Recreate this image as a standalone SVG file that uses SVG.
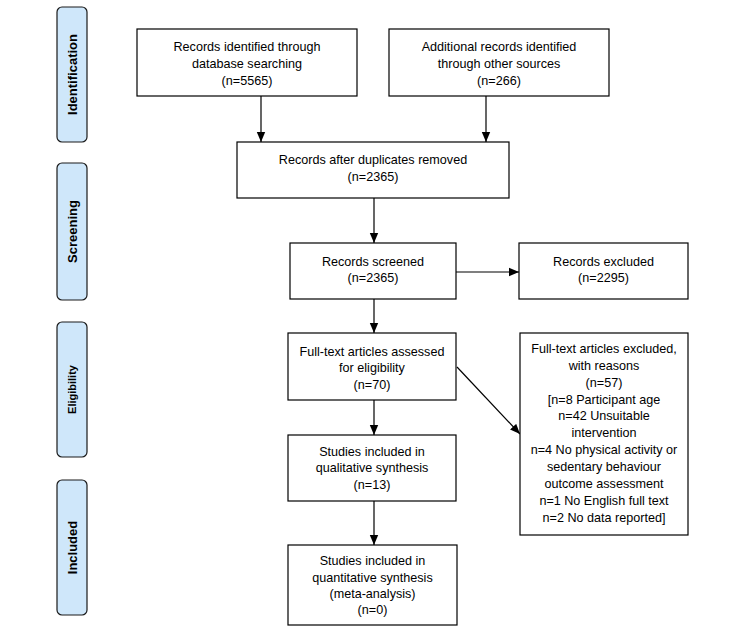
<svg xmlns="http://www.w3.org/2000/svg" width="750" height="636" viewBox="0 0 750 636">
<style>
.bg{fill:#ffffff}
.box{fill:#ffffff;stroke:#000000;stroke-width:1.2}
.side{fill:#cfe7fa;stroke:#1a1a1a;stroke-width:1.2}
.t{font-family:"Liberation Sans",Arial,sans-serif;font-size:12.6px;fill:#000000;text-anchor:middle}
.s{font-family:"Liberation Sans",Arial,sans-serif;font-size:13px;font-weight:bold;fill:#000000;text-anchor:middle}
.c{stroke:#000000;stroke-width:1.2;fill:none;marker-end:url(#ah)}
</style>
<defs>
<marker id="ah" viewBox="0 0 10 10" refX="10" refY="5" markerWidth="10" markerHeight="10" markerUnits="userSpaceOnUse" orient="auto">
<path d="M0,0.8 L10,5 L0,9.2 Z" fill="#000000"/>
</marker>
</defs>
<rect class="bg" x="0" y="0" width="750" height="636"/>

<g id="stage-identification">
<rect class="side" x="57" y="7" width="30" height="135" rx="5"/>
<text class="s" transform="translate(76.5,74.5) rotate(-90)">Identification</text>
</g>
<g id="stage-screening">
<rect class="side" x="57" y="163" width="30" height="137" rx="5"/>
<text class="s" transform="translate(76.5,231.5) rotate(-90)">Screening</text>
</g>
<g id="stage-eligibility">
<rect class="side" x="57" y="322" width="30" height="135" rx="5"/>
<text class="s" style="font-size:11px" transform="translate(76,389.5) rotate(-90)">Eligibility</text>
</g>
<g id="stage-included">
<rect class="side" x="57" y="480" width="30" height="135" rx="5"/>
<text class="s" transform="translate(76.5,547.5) rotate(-90)">Included</text>
</g>

<g id="connectors">
<line class="c" x1="261" y1="96" x2="261" y2="142"/>
<line class="c" x1="486" y1="96" x2="486" y2="142"/>
<line class="c" x1="374" y1="198" x2="374" y2="243"/>
<line class="c" x1="374" y1="299" x2="374" y2="333"/>
<line class="c" x1="456" y1="272" x2="519" y2="272"/>
<line class="c" x1="374" y1="400" x2="374" y2="435"/>
<line class="c" x1="374" y1="501" x2="374" y2="545"/>
<line class="c" x1="457" y1="367" x2="520" y2="434"/>
</g>

<g id="db-records">
<rect class="box" x="137" y="29" width="220" height="67"/>
<text class="t" x="247" y="51">Records identified through</text>
<text class="t" x="247" y="68">database searching</text>
<text class="t" x="247" y="85">(n=5565)</text>
</g>
<g id="other-records">
<rect class="box" x="389" y="29" width="220" height="67"/>
<text class="t" x="499" y="51">Additional records identified</text>
<text class="t" x="499" y="68">through other sources</text>
<text class="t" x="499" y="85">(n=266)</text>
</g>
<g id="after-duplicates">
<rect class="box" x="237" y="142" width="272" height="56"/>
<text class="t" x="373" y="164">Records after duplicates removed</text>
<text class="t" x="373" y="181">(n=2365)</text>
</g>
<g id="screened">
<rect class="box" x="290" y="243" width="166" height="56"/>
<text class="t" x="373" y="266">Records screened</text>
<text class="t" x="373" y="282">(n=2365)</text>
</g>
<g id="excluded">
<rect class="box" x="519" y="243" width="169" height="56"/>
<text class="t" x="603.5" y="266">Records excluded</text>
<text class="t" x="603.5" y="282">(n=2295)</text>
</g>
<g id="fulltext">
<rect class="box" x="288" y="333" width="168" height="67"/>
<text class="t" x="372" y="356">Full-text articles assessed</text>
<text class="t" x="372" y="372">for eligibility</text>
<text class="t" x="372" y="389">(n=70)</text>
</g>
<g id="fulltext-excluded">
<rect class="box" x="520" y="333" width="168" height="202"/>
<text class="t" x="604" y="353">Full-text articles excluded,</text>
<text class="t" x="604" y="370">with reasons</text>
<text class="t" x="604" y="387">(n=57)</text>
<text class="t" x="604" y="404">[n=8 Participant age</text>
<text class="t" x="604" y="420">n=42 Unsuitable</text>
<text class="t" x="604" y="437">intervention</text>
<text class="t" x="604" y="454">n=4 No physical activity or</text>
<text class="t" x="604" y="471">sedentary behaviour</text>
<text class="t" x="604" y="488">outcome assessment</text>
<text class="t" x="604" y="505">n=1 No English full text</text>
<text class="t" x="604" y="522">n=2 No data reported]</text>
</g>
<g id="qualitative">
<rect class="box" x="288" y="435" width="168" height="66"/>
<text class="t" x="372" y="456">Studies included in</text>
<text class="t" x="372" y="472">qualitative synthesis</text>
<text class="t" x="372" y="489">(n=13)</text>
</g>
<g id="quantitative">
<rect class="box" x="288" y="545" width="169" height="80"/>
<text class="t" x="372.5" y="565">Studies included in</text>
<text class="t" x="372.5" y="582">quantitative synthesis</text>
<text class="t" x="372.5" y="598">(meta-analysis)</text>
<text class="t" x="372.5" y="614">(n=0)</text>
</g>
</svg>
